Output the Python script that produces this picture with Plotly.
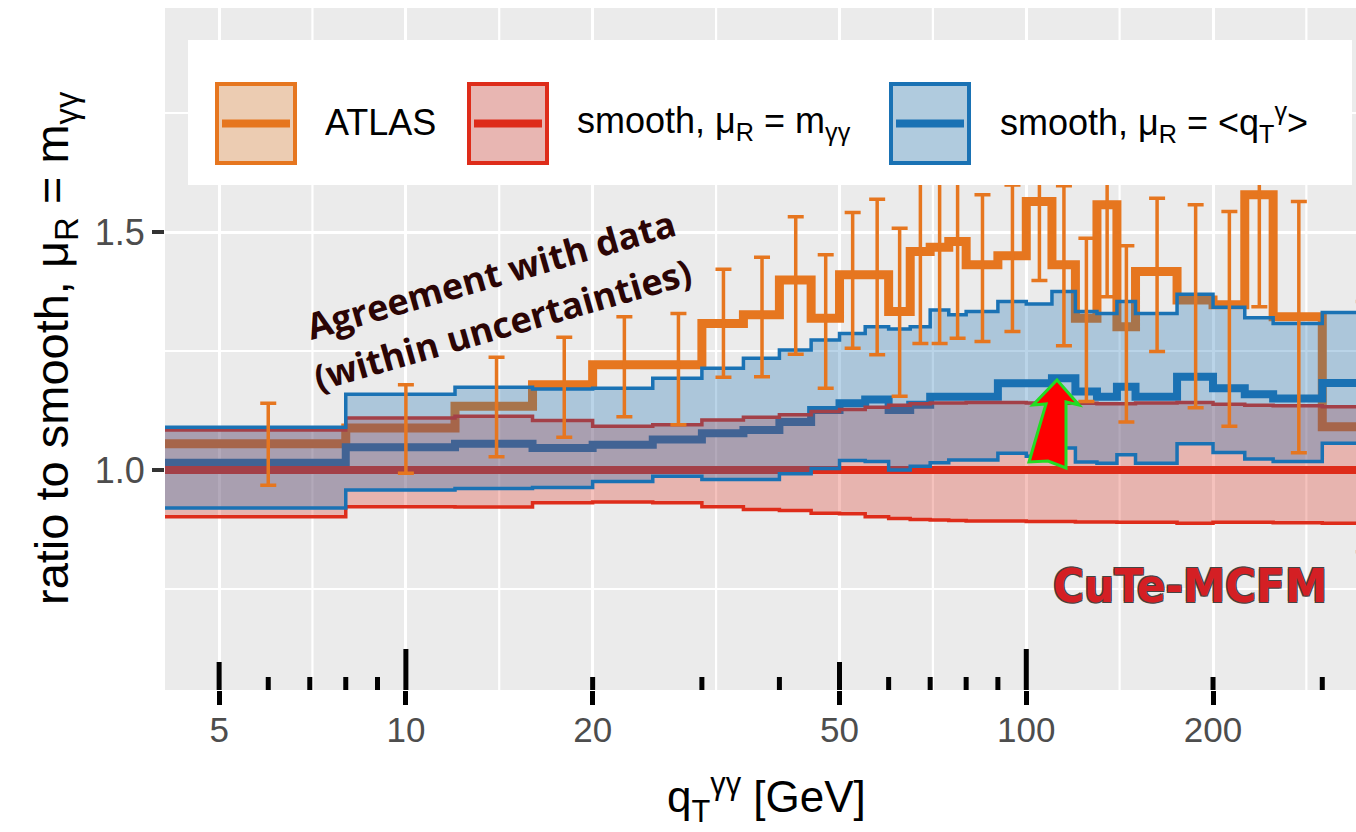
import numpy as np
import plotly.graph_objects as go

# ---------------- data ----------------
bin_edges = [4, 8, 12, 16, 20, 25, 30, 35, 40, 45, 50, 55, 60, 65, 70, 75, 80, 90,
             100, 110, 120, 130, 140, 150, 175, 200, 225, 250, 300, 400]

atlas_ratio = [1.055, 1.088, 1.134, 1.179, 1.221, 1.221, 1.308, 1.326, 1.399, 1.319,
               1.410, 1.410, 1.333, 1.459, 1.468, 1.480, 1.431, 1.450, 1.564, 1.431,
               1.319, 1.557, 1.301, 1.417, 1.357, 1.347, 1.578, 1.322, 1.091]
atlas_err_up = [0.085, 0.091, 0.103, 0.100, 0.101, 0.108, 0.114, 0.121, 0.133, 0.133,
                0.131, 0.159, 0.175, 0.195, 0.200, 0.200, 0.147, 0.149, 0.166, 0.166,
                0.168, 0.193, 0.170, 0.154, 0.200, 0.196, 0.235, 0.242, 0.263]
atlas_err_down = [0.087, 0.095, 0.106, 0.110, 0.109, 0.126, 0.113, 0.130, 0.156, 0.147,
                  0.154, 0.168, 0.178, 0.193, 0.202, 0.203, 0.161, 0.159, 0.166, 0.170,
                  0.175, 0.193, 0.200, 0.168, 0.226, 0.255, 0.235, 0.286, 0.263]

mR_central = [1.0, 1.0, 1.0, 1.0, 1.0, 1.0, 1.0, 1.0, 1.0, 1.0, 1.0, 1.0, 1.0, 1.0, 1.0,
              1.0, 1.0, 1.0, 1.0, 1.0, 1.0, 1.0, 1.0, 1.0, 1.0, 1.0, 1.0, 1.0, 1.0]
mR_upper = [1.084, 1.109, 1.113, 1.104, 1.092, 1.095, 1.105, 1.111, 1.116, 1.123,
            1.127, 1.132, 1.136, 1.139, 1.141, 1.141, 1.142, 1.142, 1.141, 1.140,
            1.140, 1.139, 1.139, 1.141, 1.142, 1.138, 1.136, 1.135, 1.133]
mR_lower = [0.902, 0.923, 0.922, 0.931, 0.933, 0.931, 0.923, 0.917, 0.915, 0.909,
            0.908, 0.902, 0.898, 0.896, 0.895, 0.894, 0.893, 0.893, 0.892, 0.892,
            0.891, 0.891, 0.890, 0.890, 0.888, 0.890, 0.890, 0.889, 0.888]

qT_central = [1.015, 1.048, 1.055, 1.046, 1.053, 1.064, 1.077, 1.084, 1.101, 1.126,
              1.140, 1.148, 1.126, 1.137, 1.154, 1.154, 1.154, 1.182, 1.182, 1.193,
              1.165, 1.154, 1.175, 1.154, 1.196, 1.172, 1.159, 1.150, 1.183]
qT_upper = [1.090, 1.159, 1.174, 1.170, 1.172, 1.193, 1.214, 1.235, 1.252, 1.273,
            1.287, 1.301, 1.296, 1.301, 1.336, 1.326, 1.333, 1.354, 1.349, 1.375,
            1.333, 1.329, 1.354, 1.329, 1.369, 1.342, 1.320, 1.308, 1.331]
qT_lower = [0.920, 0.958, 0.961, 0.963, 0.976, 0.987, 0.980, 0.980, 0.992, 1.003,
            1.020, 1.018, 1.000, 1.008, 1.015, 1.021, 1.021, 1.035, 1.029, 1.046,
            1.017, 1.014, 1.032, 1.014, 1.055, 1.037, 1.023, 1.018, 1.056]

x_major_ticks = [5, 10, 20, 50, 100, 200]
x_major_labels = ["5", "10", "20", "50", "100", "200"]
x_minor_grid = [7.07, 14.14, 31.62, 70.71, 141.4, 282.8]
y_major_ticks = [1.0, 1.5]
y_major_labels = ["1.0", "1.5"]
y_minor_grid = [0.75, 1.25, 1.75]
logtick_short = [6, 7, 8, 9, 20, 30, 40, 60, 70, 80, 90, 200, 300]
logtick_mid = [5, 50]
logtick_long = [10, 100]

# ---------------- styles ----------------
ORANGE = "#e6761f"
RED = "#de2c1a"
BLUE = "#1a72b4"
RED_FILL = "rgba(222,44,26,0.29)"
BLUE_FILL = "rgba(26,114,180,0.30)"
FONT = "Liberation Sans, Arial, Helvetica, sans-serif"

X_RANGE = [4.09, 340]
Y_RANGE = [0.5378, 1.9706]

# plot area in pixels (for decorations)
L, R, T, B = 165, 1356, 8, 690
W, H = R - L, B - T
Y_PER_PX = (Y_RANGE[1] - Y_RANGE[0]) / H


def px(x):
    return (x - L) / W


def py(y):
    return (B - y) / H


def steps(values):
    return list(bin_edges), list(values) + [values[-1]]


def vlines(xvals, y0, y1):
    xs, ys = [], []
    for v in xvals:
        xs += [v, v, None]
        ys += [y0, y1, None]
    return xs, ys


def hlines(yvals, x0, x1):
    xs, ys = [], []
    for v in yvals:
        xs += [x0, x1, None]
        ys += [v, v, None]
    return xs, ys


centers = [(a + b) / 2 for a, b in zip(bin_edges[:-1], bin_edges[1:])]

fig = go.Figure()

# minor grid lines (drawn first, under everything)
gx, gy = vlines(x_minor_grid, Y_RANGE[0] - 1, Y_RANGE[1] + 1)
fig.add_trace(go.Scatter(x=gx, y=gy, mode="lines", line=dict(color="white", width=2.2),
                         showlegend=False, hoverinfo="skip"))
gx, gy = hlines(y_minor_grid, 1, 1000)
fig.add_trace(go.Scatter(x=gx, y=gy, mode="lines", line=dict(color="white", width=2.2),
                         showlegend=False, hoverinfo="skip"))

# ATLAS central (under bands)
xs, ys = steps(atlas_ratio)
fig.add_trace(go.Scatter(x=xs, y=ys, mode="lines", line=dict(color=ORANGE, width=9, shape="hv"),
                         name="ATLAS", showlegend=False, hoverinfo="skip"))
# blue central
xs, ys = steps(qT_central)
fig.add_trace(go.Scatter(x=xs, y=ys, mode="lines", line=dict(color=BLUE, width=8, shape="hv"),
                         showlegend=False, hoverinfo="skip"))
# red band
xs, ys = steps(mR_lower)
fig.add_trace(go.Scatter(x=xs, y=ys, mode="lines", line=dict(color=RED, width=3.5, shape="hv"),
                         showlegend=False, hoverinfo="skip"))
xs, ys = steps(mR_upper)
fig.add_trace(go.Scatter(x=xs, y=ys, mode="lines", line=dict(color=RED, width=3.5, shape="hv"),
                         fill="tonexty", fillcolor=RED_FILL, showlegend=False, hoverinfo="skip"))
# red central
xs, ys = steps(mR_central)
fig.add_trace(go.Scatter(x=xs, y=ys, mode="lines", line=dict(color=RED, width=8, shape="hv"),
                         showlegend=False, hoverinfo="skip"))
# blue band
xs, ys = steps(qT_lower)
fig.add_trace(go.Scatter(x=xs, y=ys, mode="lines", line=dict(color=BLUE, width=3.5, shape="hv"),
                         showlegend=False, hoverinfo="skip"))
xs, ys = steps(qT_upper)
fig.add_trace(go.Scatter(x=xs, y=ys, mode="lines", line=dict(color=BLUE, width=3.5, shape="hv"),
                         fill="tonexty", fillcolor=BLUE_FILL, showlegend=False, hoverinfo="skip"))
# ATLAS error bars
fig.add_trace(go.Scatter(x=centers, y=atlas_ratio, mode="markers",
                         marker=dict(size=1, color=ORANGE, opacity=0),
                         error_y=dict(type="data", symmetric=False, array=atlas_err_up,
                                      arrayminus=atlas_err_down, color=ORANGE,
                                      thickness=3.5, width=8),
                         showlegend=False, hoverinfo="skip"))

# log ticks along the bottom (annotation_logticks style)
for vals, ln in ((logtick_short, 13), (logtick_mid, 28), (logtick_long, 41)):
    tx, ty = vlines(vals, Y_RANGE[0] - 0.01, Y_RANGE[0] + ln * Y_PER_PX)
    fig.add_trace(go.Scatter(x=tx, y=ty, mode="lines", line=dict(color="black", width=5),
                             showlegend=False, hoverinfo="skip"))

shapes = []
# legend box
shapes.append(dict(type="rect", xref="paper", yref="paper", x0=px(188), x1=px(1352),
                   y0=py(185), y1=py(40), fillcolor="white", line=dict(width=0), layer="above"))
legend_items = [
    (215, ORANGE, "rgb(236,204,178)", "ATLAS", 323),
    (467, RED, "rgb(232,182,178)", "smooth, μ<sub>R</sub> = m<sub>γγ</sub>", 575),
    (889, BLUE, "rgb(176,203,222)", "smooth, μ<sub>R</sub> = &lt;q<sub>T</sub><sup>γ</sup>&gt;", 998),
]
annotations = []
for left, col, fillc, label, tx in legend_items:
    shapes.append(dict(type="rect", xref="paper", yref="paper", x0=px(left + 2), x1=px(left + 80),
                       y0=py(163), y1=py(84), fillcolor=fillc, line=dict(color=col, width=4),
                       layer="above"))
    shapes.append(dict(type="line", xref="paper", yref="paper", x0=px(left + 7), x1=px(left + 75),
                       y0=py(123.5), y1=py(123.5), line=dict(color=col, width=8), layer="above"))
    annotations.append(dict(xref="paper", yref="paper", x=px(tx), y=py(123), xanchor="left",
                            yanchor="middle", text=label, showarrow=False,
                            font=dict(family=FONT, size=36, color="black")))

# red arrow with green outline
arrow_pts = [(1057, 380), (1079, 405), (1066, 402), (1066, 468), (1048, 461),
             (1029, 462), (1046, 404), (1033, 405)]
path = "M " + " L ".join(f"{px(x):.5f},{py(y):.5f}" for x, y in arrow_pts) + " Z"
shapes.append(dict(type="path", xref="paper", yref="paper", path=path, fillcolor="#ff0000",
                   line=dict(color="#22dd22", width=3), layer="above"))

# annotation text
annotations.append(dict(xref="paper", yref="paper", x=px(491), y=py(274), text="Agreement with data",
                        textangle=-16, showarrow=False, xanchor="center", yanchor="middle",
                        font=dict(family="Open Sans", size=36, color="#2b0505", weight="bold")))
annotations.append(dict(xref="paper", yref="paper", x=px(502), y=py(324),
                        text="(within uncertainties)",
                        textangle=-16, showarrow=False, xanchor="center", yanchor="middle",
                        font=dict(family="Open Sans", size=36, color="#2b0505", weight="bold")))

# logo
annotations.append(dict(xref="paper", yref="paper", x=px(1190), y=py(585), text="CuTe-MCFM",
                        showarrow=False, xanchor="center", yanchor="middle",
                        font=dict(family="Liberation Sans Narrow, DejaVu Sans Condensed, Liberation Sans",
                                  size=47, color="#d41f24", weight="bold",
                                  shadow="-1px -1px 0 #444, 1px -1px 0 #444, -1px 1px 0 #444, 1px 1px 0 #444")))

# axis titles
annotations.append(dict(xref="paper", yref="paper", x=0.505, y=py(797),
                        text="q<sub>T</sub><sup>γγ</sup> [GeV]", showarrow=False,
                        xanchor="center", yanchor="middle",
                        font=dict(family=FONT, size=44, color="black")))
annotations.append(dict(xref="paper", yref="paper", x=px(55), y=py(348),
                        text="ratio to smooth, μ<sub>R</sub> = m<sub>γγ</sub>", showarrow=False,
                        textangle=-90, xanchor="center", yanchor="middle",
                        font=dict(family=FONT, size=47, color="black")))

fig.update_layout(
    width=1356, height=832,
    margin=dict(l=L, r=1356 - R, t=T, b=832 - B),
    paper_bgcolor="white", plot_bgcolor="#ebebeb",
    font=dict(family=FONT),
    showlegend=False,
    shapes=shapes, annotations=annotations,
    xaxis=dict(type="log", range=[np.log10(X_RANGE[0]), np.log10(X_RANGE[1])],
               tickmode="array", tickvals=x_major_ticks, ticktext=x_major_labels,
               ticks="outside", ticklen=14, tickwidth=5, tickcolor="black",
               ticklabelstandoff=-5,
               tickfont=dict(size=35, color="#4d4d4d"),
               showgrid=True, gridcolor="white", gridwidth=3.2, zeroline=False, showline=False,
               fixedrange=True),
    yaxis=dict(range=Y_RANGE, tickmode="array", tickvals=y_major_ticks,
               ticktext=y_major_labels, ticks="outside", ticklen=12, tickwidth=4,
               tickcolor="#333333", tickfont=dict(size=36, color="#4d4d4d"),
               showgrid=True, gridcolor="white", gridwidth=3.2, zeroline=False, showline=False,
               fixedrange=True),
)

fig.write_html("out.html")
